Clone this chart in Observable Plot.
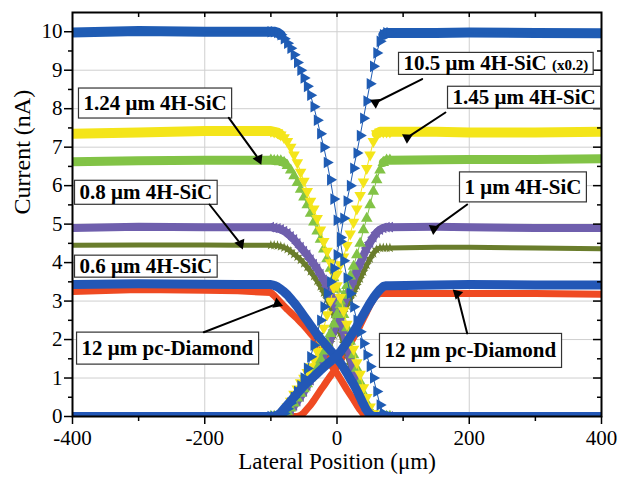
<!DOCTYPE html>
<html><head><meta charset="utf-8">
<script src="https://cdn.jsdelivr.net/npm/d3@7"></script>
<script src="https://cdn.jsdelivr.net/npm/@observablehq/plot@0.6"></script>
<style>body{margin:0;background:#fff}</style>
</head><body><div id="chart"></div>
<script>
// ---- data ----
const xEdge = [-100,-95,-90,-85,-80,-75,-70,-65,-60,-55,-50,-45,-40,-35,-30,-25,-20,-15,-10,-5,0,5,10,15,20,25,30,35,40,45,50,55,60,65,70,75,80];
const xPlatL = [-400, -300, -200, -150];
const xPlatR = [150, 200, 300, 400];
const zeroPlat = [0, 0, 0, 0];

// 10.5 um 4H-SiC (x0.2)
const b105PlatL = [9.98, 10.02, 10.0, 10.0];
const b105PlatR = [9.97, 9.98, 9.97, 9.96];
const b105Fall = [10.0,10.0,9.98,9.92,9.82, 9.7,9.57,9.4,9.2,9.0, 8.8,8.58,8.35,8.05,7.7, 7.35,7.0,6.6,6.15,5.65, 5.1,4.55,4.05,3.6,3.2, 2.85,2.5,2.2,1.9,1.6, 1.3,1.0,0.65,0.3,0.08, 0,0];
const b105Rise = [0,0,0,0.02,0.08, 0.2,0.35,0.5,0.65,0.8, 1.0,1.25,1.55,1.85,2.15, 2.5,2.85,3.2,3.5,3.85, 4.2,4.65,5.15,5.6,6.0, 6.45,6.85,7.3,7.75,8.2, 8.65,9.1,9.45,9.75,9.92, 9.97,9.97];
// 1.45 um 4H-SiC
const ylwPlatL = [7.35, 7.38, 7.42, 7.42];
const ylwPlatR = [7.4, 7.38, 7.38, 7.4];
const ylwFall = [7.42,7.4,7.38,7.32,7.25, 7.15,7.0,6.8,6.6,6.35, 6.12,5.85,5.6,5.4,5.15, 4.85,4.55,4.3,4.0,3.7, 3.4,3.1,2.75,2.4,2.05, 1.75,1.4,1.1,0.75,0.5, 0.25,0.08,0,0,0, 0,0];
const ylwRise = [0,0,0,0.03,0.12, 0.25,0.4,0.58,0.72,0.88, 1.0,1.15,1.3,1.5,1.7, 1.95,2.3,2.65,3.0,3.35, 3.7,3.95,4.15,4.45,4.75, 5.05,5.4,5.75,6.1,6.45, 6.8,7.15,7.35,7.4,7.4, 7.4,7.4];
// 1.24 um 4H-SiC
const grnPlatL = [6.62, 6.65, 6.66, 6.66];
const grnPlatR = [6.67, 6.68, 6.68, 6.7];
const grnFall = [6.66,6.65,6.65,6.64,6.6, 6.52,6.4,6.25,6.08,5.9, 5.7,5.5,5.28,5.05,4.82, 4.6,4.35,4.1,3.85,3.6, 3.3,3.0,2.65,2.3,1.95, 1.6,1.25,0.9,0.6,0.35, 0.15,0.03,0,0,0, 0,0];
const grnRise = [0,0,0,0,0.05, 0.12,0.22,0.35,0.48,0.6, 0.72,0.85,1.0,1.15,1.32, 1.5,1.7,1.92,2.15,2.4, 2.65,2.9,3.15,3.4,3.65, 3.9,4.2,4.5,4.85,5.15, 5.5,5.85,6.15,6.4,6.6, 6.66,6.66];
// 1 um 4H-SiC
const prpPlatL = [4.9, 4.93, 4.92, 4.92];
const prpPlatR = [4.93, 4.92, 4.9, 4.9];
const prpFall = [4.92,4.9,4.89,4.86,4.82, 4.76,4.68,4.6,4.5,4.4, 4.3,4.2,4.08,3.96,3.84, 3.7,3.55,3.38,3.2,2.98, 2.75,2.5,2.2,1.88,1.55, 1.22,0.9,0.6,0.34,0.15, 0.04,0,0,0,0, 0,0];
const prpRise = [0,0,0,0,0.04, 0.1,0.18,0.28,0.4,0.52, 0.65,0.8,0.95,1.1,1.27, 1.45,1.63,1.83,2.03,2.25, 2.47,2.7,2.92,3.14,3.35, 3.55,3.78,3.98,4.18,4.38, 4.52,4.66,4.78,4.86,4.9, 4.92,4.92];
// 0.8 um 4H-SiC
const olvPlatL = [4.45, 4.46, 4.46, 4.45];
const olvPlatR = [4.4, 4.4, 4.38, 4.36];
const olvFall = [4.45,4.45,4.44,4.42,4.39, 4.35,4.29,4.22,4.15,4.07, 3.98,3.88,3.77,3.65,3.52, 3.38,3.22,3.05,2.86,2.65, 2.42,2.17,1.9,1.62,1.34, 1.07,0.8,0.56,0.35,0.18, 0.06,0,0,0,0, 0,0];
const olvRise = [0,0,0,0,0.03, 0.1,0.18,0.28,0.4,0.52, 0.65,0.78,0.92,1.07,1.22, 1.38,1.55,1.73,1.92,2.12, 2.32,2.52,2.7,2.88,3.05, 3.22,3.4,3.58,3.76,3.94, 4.1,4.24,4.34,4.38,4.38, 4.38,4.38];
// 0.6 um 4H-SiC
const b06PlatL = [3.43, 3.45, 3.44, 3.43];
const b06PlatR = [3.42, 3.43, 3.42, 3.42];
const b06Fall = [3.43,3.41,3.37,3.31,3.24, 3.16,3.06,2.96,2.85,2.73, 2.61,2.49,2.37,2.25,2.13, 2.02,1.92,1.82,1.72,1.62, 1.52,1.4,1.27,1.13,0.98, 0.84,0.68,0.5,0.32,0.16, 0.05,0,0,0,0, 0,0];
const b06Rise = [0,0,0.03,0.1,0.2, 0.3,0.4,0.5,0.6,0.7, 0.8,0.88,0.96,1.04,1.12, 1.2,1.28,1.36,1.43,1.5, 1.57,1.68,1.8,1.93,2.07, 2.2,2.34,2.5,2.65,2.8, 2.95,3.08,3.2,3.3,3.38, 3.4,3.4];
// 12 um pc-Diamond
const redPlatL = [3.25, 3.3, 3.28, 3.27];
const redPlatR = [3.2, 3.2, 3.2, 3.18];
const redFall = [3.22,3.14,3.05,2.96,2.87, 2.78,2.7,2.62,2.54,2.45, 2.36,2.26,2.16,2.06,1.93, 1.8,1.65,1.5,1.36,1.24, 1.12,0.98,0.84,0.7,0.57, 0.44,0.3,0.17,0.06,0, 0,0,0,0,0, 0,0];
const redRise = [0,0,0,0,0, 0,0,0,0,0.03, 0.1,0.2,0.3,0.42,0.55, 0.68,0.8,0.93,1.05,1.17, 1.3,1.45,1.6,1.75,1.9, 2.05,2.2,2.37,2.55,2.72, 2.9,3.05,3.15,3.2,3.2, 3.2,3.2];

// annotations
const labelText = ["10.5 μm 4H-SiC (x0.2)", "1.45 μm 4H-SiC", "1 μm 4H-SiC", "1.24 μm 4H-SiC", "0.8 μm 4H-SiC", "0.6 μm 4H-SiC", "12 μm pc-Diamond", "12 μm pc-Diamond"];
const labelX = [100.6, 174.7, 192.8, -383.4, -389.4, -389.4, -386.3, 71.8];
const labelY = [9.17, 8.29, 5.96, 8.14, 5.82, 3.9, 1.77, 1.71];
const arrowX1 = [128.8, 164, 196.9, -163.6, -192.8, -201.4, 196.9];
const arrowY1 = [8.77, 7.9, 5.51, 7.76, 5.51, 2.19, 2.16];
const arrowX2 = [58.2, 106.2, 146.4, -118.3, -145.9, -90.4, 181.8];
const arrowY2 = [8.16, 7.25, 4.88, 6.69, 4.49, 2.93, 3.19];
const xTicks = [-400, -200, 0, 200, 400];
const xMinor = [-300, -100, 100, 300];
const yTicks = [0,1,2,3,4,5,6,7,8,9,10];

// ---- build ----
const W = 618, H = 481, mL = 72, mR = 17, mT = 12, mB = 65;
const xDom = [-400, 400], yDom = [0, 10.5];
const kx = (W - mL - mR) / (xDom[1] - xDom[0]);
const ky = (H - mT - mB) / (yDom[1] - yDom[0]);

function curve(left, edge, right) {
  return [
    ...xPlatL.map((x, i) => ({x, y: left[i], edge: false})),
    ...xEdge.map((x, i) => ({x, y: edge[i], edge: true})),
    ...xPlatR.map((x, i) => ({x, y: right[i], edge: false}))
  ];
}
const series = [
  {key: "red", fall: curve(redPlatL, redFall, zeroPlat), rise: curve(zeroPlat, redRise, redPlatR)},
  {key: "olv", fall: curve(olvPlatL, olvFall, zeroPlat), rise: curve(zeroPlat, olvRise, olvPlatR)},
  {key: "prp", fall: curve(prpPlatL, prpFall, zeroPlat), rise: curve(zeroPlat, prpRise, prpPlatR)},
  {key: "grn", fall: curve(grnPlatL, grnFall, zeroPlat), rise: curve(zeroPlat, grnRise, grnPlatR)},
  {key: "ylw", fall: curve(ylwPlatL, ylwFall, zeroPlat), rise: curve(zeroPlat, ylwRise, ylwPlatR)},
  {key: "b105", fall: curve(b105PlatL, b105Fall, zeroPlat), rise: curve(zeroPlat, b105Rise, b105PlatR)},
  {key: "b06", fall: curve(b06PlatL, b06Fall, zeroPlat), rise: curve(zeroPlat, b06Rise, b06PlatR)}
];
const styles = {
  red:  {color: "#ef4a22", mode: "dense", band: 7},
  olv:  {color: "#6a7d2c", mode: "dense", band: 5, symbol: "star", rotate: 0, r: 3.2},
  prp:  {color: "#6f5fad", mode: "dense", band: 8, symbol: "triangle", rotate: -90, r: 4},
  grn:  {color: "#82c346", mode: "sparse", band: 9, symbol: "triangle", rotate: 0, r: 4.3},
  ylw:  {color: "#f4e51a", mode: "sparse", band: 10, symbol: "triangle", rotate: 180, r: 4.3},
  b105: {color: "#1f5cb4", mode: "sparse", band: 10, symbol: "triangle", rotate: 90, r: 4.3},
  b06:  {color: "#2357b6", mode: "dense", band: 9}
};

const marks = [
  Plot.ruleY(yTicks.slice(1), {y: d => d, stroke: "#cfcfcf", strokeWidth: 1}),
  Plot.ruleX([-200, 0, 200], {x: d => d, stroke: "#cfcfcf", strokeWidth: 1})
];
for (const s of series) {
  const st = styles[s.key];
  for (const pts of [s.fall, s.rise]) {
    const top = d3.max(pts, d => d.y);
    if (st.mode === "sparse") {
      marks.push(Plot.line(pts, {x: "x", y: d => d.y >= top - 0.12 ? d.y : NaN, stroke: st.color, strokeWidth: st.band, clip: true}));
      marks.push(Plot.line(pts, {x: "x", y: d => d.y <= 0.001 ? d.y : NaN, stroke: st.color, strokeWidth: 7, clip: true}));
      marks.push(Plot.line(pts, {x: "x", y: "y", stroke: st.color, strokeWidth: 1, clip: true}));
    } else {
      marks.push(Plot.line(pts, {x: "x", y: "y", stroke: st.color, strokeWidth: st.band, clip: true}));
    }
    if (st.symbol) {
      marks.push(Plot.dot(pts.filter(d => d.edge), {x: "x", y: "y", symbol: st.symbol, rotate: st.rotate, r: st.r, fill: st.color, clip: true}));
    }
  }
}
const arrowIdx = arrowX1.map((d, i) => i);
const headAngle = i => Math.atan2((arrowX2[i] - arrowX1[i]) * kx, (arrowY2[i] - arrowY1[i]) * ky) * 180 / Math.PI;
marks.push(
  Plot.frame({stroke: "black", strokeWidth: 2}),
  Plot.ruleX(d3.range(-300, 400, 100), {x: d => d, insetBottom: H - mT - mB - 5, stroke: "black", strokeWidth: 1.5}),
  Plot.ruleY(yTicks.slice(1, 10), {y: d => d, insetLeft: W - mL - mR - 8, stroke: "black", strokeWidth: 1.5}),
  Plot.ruleY(yTicks.map(d => d + 0.5).slice(0, 10), {y: d => d, insetLeft: W - mL - mR - 4, stroke: "black", strokeWidth: 1.5}),
  Plot.axisX({ticks: xTicks, tickSize: 8, tickPadding: 6, tickFormat: d => String(d), label: null, strokeWidth: 1.5}),
  Plot.axisX({ticks: xMinor, tickSize: 5, tickFormat: () => "", label: null, strokeWidth: 1.5}),
  Plot.axisY({ticks: yTicks, tickSize: 8, tickPadding: 2, tickFormat: d => String(d), label: null, strokeWidth: 1.5}),
  Plot.axisY({ticks: yTicks.map(d => d + 0.5).slice(0, 10), tickSize: 4, tickFormat: () => "", label: null, strokeWidth: 1.5}),
  Plot.text(["Lateral Position (μm)"], {text: d => d, frameAnchor: "bottom", dy: 52, fontSize: 23}),
  Plot.text(["Current (nA)"], {text: d => d, frameAnchor: "left", dx: -50, rotate: -90, fontSize: 24}),
  Plot.text(labelText.map((t, i) => i), {x: i => labelX[i], y: i => labelY[i], text: i => labelText[i], textAnchor: "start", fontWeight: "bold", fontSize: 21, fill: "black"}),
  Plot.arrow(arrowIdx, {x1: i => arrowX1[i], y1: i => arrowY1[i], x2: i => arrowX2[i], y2: i => arrowY2[i], stroke: "black", strokeWidth: 2, headLength: 0, insetEnd: 4}),
  Plot.dot(arrowIdx, {x: i => arrowX2[i], y: i => arrowY2[i], symbol: "triangle", r: 4, rotate: i => 180 - headAngle(i), fill: "black"})
);

const svg = Plot.plot({
  width: W, height: H,
  marginLeft: mL, marginRight: mR, marginTop: mT, marginBottom: mB,
  x: {domain: xDom},
  y: {domain: yDom},
  style: {fontFamily: "'Liberation Serif', 'Times New Roman', serif", fontSize: "21px", background: "white", color: "black"},
  marks
});
document.getElementById("chart").append(svg);

// white boxes behind the labels
const padY = [-1, -1, 3, 3, 0, -1, 4, 5];
const used = new Set();
svg.querySelectorAll("text").forEach(t => {
  const idx = labelText.findIndex((s, i) => !used.has(i) && t.textContent === s);
  if (idx < 0) return;
  used.add(idx);
  if (idx === 0) {
    t.textContent = "10.5 μm 4H-SiC ";
    const ts = document.createElementNS("http://www.w3.org/2000/svg", "tspan");
    ts.setAttribute("font-size", "15");
    ts.textContent = "(x0.2)";
    t.appendChild(ts);
  }
  const b = t.getBBox();
  const r = document.createElementNS("http://www.w3.org/2000/svg", "rect");
  r.setAttribute("x", b.x - 5);
  r.setAttribute("y", b.y - padY[idx]);
  r.setAttribute("width", b.width + 10);
  r.setAttribute("height", b.height + 2 * padY[idx]);
  r.setAttribute("fill", "white");
  r.setAttribute("stroke", "#333");
  r.setAttribute("stroke-width", "1.2");
  const tr = t.getAttribute("transform");
  if (tr) r.setAttribute("transform", tr);
  t.parentNode.insertBefore(r, t);
});
</script>
</body></html>
